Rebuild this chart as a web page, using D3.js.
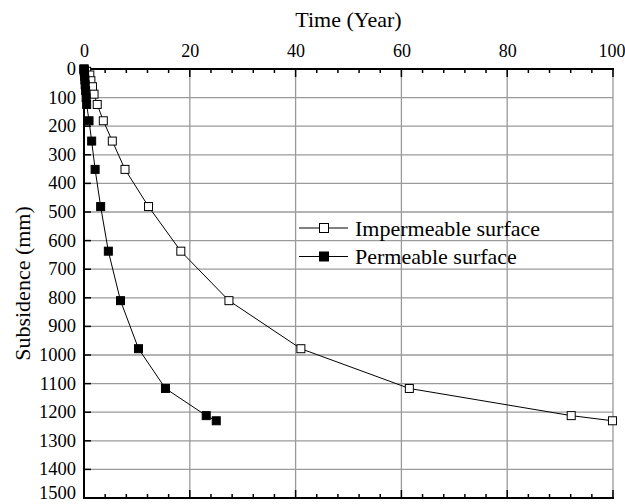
<!DOCTYPE html>
<html>
<head>
<meta charset="utf-8">
<script src="https://cdn.jsdelivr.net/npm/d3@7"></script>
<style>
  body { margin: 0; background: #fff; }
</style>
</head>
<body>
<div id="chart"></div>
<script>
// subsidence values (mm)
var impSub  = [0, 8, 21, 41, 62, 88, 124, 181, 252, 351, 481, 637, 810, 978, 1117, 1212, 1230];
var impTime = [0, 0.5, 1.1, 1.3, 1.6, 1.9, 2.5, 3.65, 5.35, 7.75, 12.2, 18.3, 27.4, 41.0, 61.5, 92.1, 99.9];

var perSub  = [0, 3, 8, 15, 25, 38, 55, 75, 100, 124, 181, 252, 351, 481, 637, 810, 978, 1117, 1212, 1230];
var perTime = [0, 0.02, 0.05, 0.08, 0.12, 0.17, 0.22, 0.3, 0.4, 0.5, 0.95, 1.45, 2.1, 3.15, 4.6, 6.9, 10.3, 15.4, 23.1, 25.0];

var xTicks = [0, 20, 40, 60, 80, 100];
var xMinor = d3.range(0, 101, 4);
var yTicks = d3.range(0, 1501, 100);

var seriesNames = ["Impermeable surface", "Permeable surface"];

var FONT = "'Liberation Serif', Tinos, 'Times New Roman', 'DejaVu Serif', serif";

var W = 625, H = 504;
var margin = { top: 69, right: 12, bottom: 6, left: 84 };
var width = W - margin.left - margin.right,
    height = H - margin.top - margin.bottom;

var x = d3.scaleLinear().domain([0, 100]).range([0, width]);
var y = d3.scaleLinear().domain([0, 1500]).range([0, height]);

var svg = d3.select("#chart").append("svg")
    .attr("width", W).attr("height", H)
    .attr("font-family", FONT);
var g = svg.append("g")
    .attr("transform", "translate(" + margin.left + "," + margin.top + ")");

// grid
g.selectAll(".vgrid").data(xTicks.slice(1)).enter().append("line")
    .attr("x1", function(d) { return x(d); }).attr("x2", function(d) { return x(d); })
    .attr("y1", 0).attr("y2", height)
    .attr("stroke", "#9a9a9a").attr("stroke-width", 1.3);
g.selectAll(".hgrid").data(yTicks.slice(1, -1)).enter().append("line")
    .attr("x1", 0).attr("x2", width)
    .attr("y1", function(d) { return y(d); }).attr("y2", function(d) { return y(d); })
    .attr("stroke", "#9a9a9a").attr("stroke-width", 1.3);

// top axis
var topAxis = g.append("g")
    .call(d3.axisTop(x).tickValues(xTicks).tickFormat(d3.format("d")).tickSize(0).tickPadding(12))
    .attr("font-family", FONT).attr("font-size", 18);
topAxis.select(".domain").remove();
// keep the last label inside the window
topAxis.selectAll("text").filter(function(d) { return d === 100; }).attr("dx", "-1.5");

function minorTicks(yPos, dir) {
  g.append("g").selectAll("line").data(xMinor).enter().append("line")
    .attr("x1", function(d) { return x(d); }).attr("x2", function(d) { return x(d); })
    .attr("y1", yPos)
    .attr("y2", function(d) { return yPos + dir * (d % 20 === 0 ? 8 : 4); })
    .attr("stroke", "#000").attr("stroke-width", 1.5);
}
minorTicks(0, 1);
minorTicks(height, -1);

g.append("line").attr("x1", -1).attr("x2", width + 1).attr("y1", 0).attr("y2", 0)
    .attr("stroke", "#000").attr("stroke-width", 2);
g.append("line").attr("x1", -1).attr("x2", width + 1).attr("y1", height).attr("y2", height)
    .attr("stroke", "#000").attr("stroke-width", 2);

// left axis
var leftAxis = g.append("g")
    .call(d3.axisLeft(y).tickValues(yTicks).tickFormat(d3.format("d")).tickSize(0).tickPadding(8))
    .attr("font-family", FONT).attr("font-size", 18.5);
leftAxis.select(".domain").remove();
leftAxis.selectAll("text").attr("dy", function(d) { return d === 1500 ? "0.02em" : "0.3em"; });
g.append("g").selectAll("line").data(yTicks).enter().append("line")
    .attr("x1", 0).attr("x2", 7)
    .attr("y1", function(d) { return y(d); }).attr("y2", function(d) { return y(d); })
    .attr("stroke", "#000").attr("stroke-width", 1.5);
g.append("line").attr("x1", 0).attr("x2", 0).attr("y1", 0).attr("y2", height)
    .attr("stroke", "#000").attr("stroke-width", 2);

// axis titles
svg.append("text")
    .attr("x", margin.left + width / 2).attr("y", 27)
    .attr("text-anchor", "middle").attr("font-size", 22)
    .text("Time (Year)");
svg.append("text")
    .attr("transform", "translate(30," + (margin.top + height / 2) + ") rotate(-90)")
    .attr("text-anchor", "middle").attr("font-size", 22)
    .text("Subsidence (mm)");

// series
var line = d3.line().x(function(d) { return x(d[0]); }).y(function(d) { return y(d[1]); });
var sq = 8;

function drawSeries(times, subs, fill) {
  var pts = d3.zip(times, subs);
  g.append("path").datum(pts).attr("d", line)
    .attr("fill", "none").attr("stroke", "#000").attr("stroke-width", 1);
  g.append("g").selectAll("rect").data(pts).enter().append("rect")
    .attr("x", function(d) { return x(d[0]) - sq / 2; })
    .attr("y", function(d) { return y(d[1]) - sq / 2; })
    .attr("width", sq).attr("height", sq)
    .attr("fill", fill).attr("stroke", "#000").attr("stroke-width", 1);
}
drawSeries(impTime, impSub, "#fff");
drawSeries(perTime, perSub, "#000");

// legend
var legend = svg.append("g").attr("transform", "translate(299,228)");
seriesNames.forEach(function(name, i) {
  var row = legend.append("g").attr("transform", "translate(0," + (i * 28.5) + ")");
  row.append("line").attr("x1", 0).attr("x2", 49).attr("y1", 0).attr("y2", 0)
    .attr("stroke", "#000").attr("stroke-width", 1);
  row.append("rect").attr("x", 25 - 4.5).attr("y", -4.5).attr("width", 9).attr("height", 9)
    .attr("fill", i === 0 ? "#fff" : "#000").attr("stroke", "#000").attr("stroke-width", 1);
  row.append("text").attr("x", 56).attr("y", 7.5).attr("font-size", 22).text(name);
});
</script>
</body>
</html>
